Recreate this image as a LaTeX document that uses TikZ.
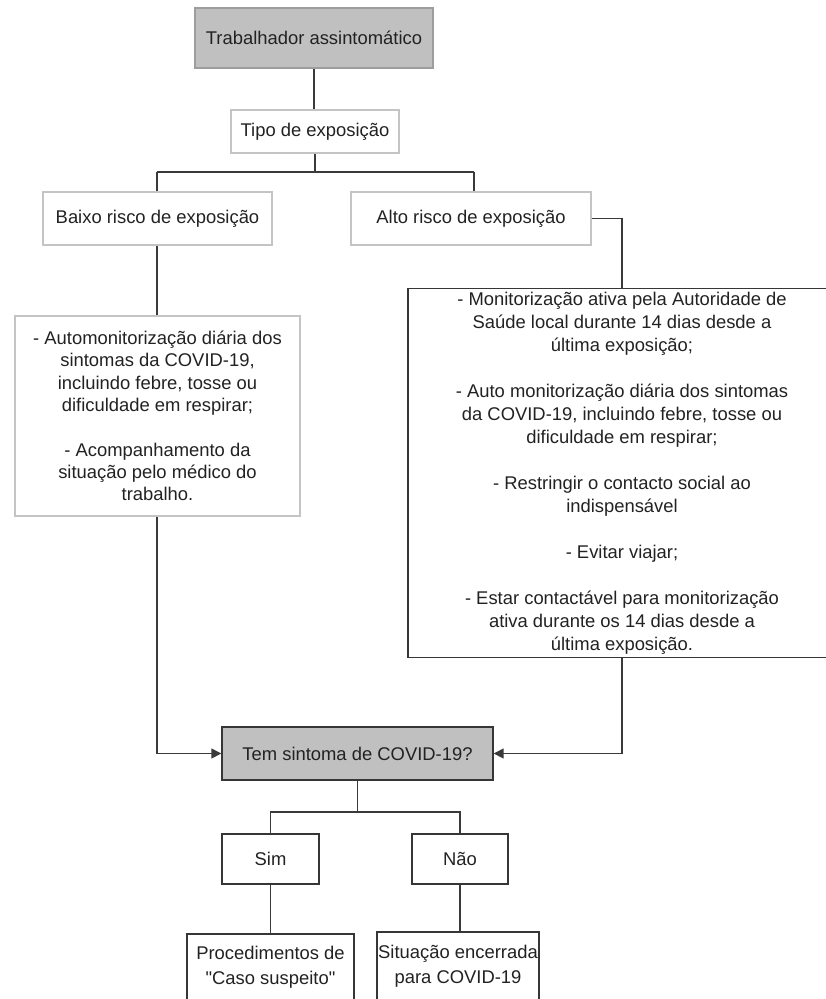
\documentclass[tikz,border=0pt]{standalone}
\usepackage{fontspec}
\setmainfont{Liberation Sans}[Ligatures=TeXOff]
\usetikzlibrary{arrows.meta}
\definecolor{boxgray}{HTML}{C0C0C0}
\definecolor{lightedge}{HTML}{C4C4C4}
\definecolor{darkedge}{HTML}{363636}
\definecolor{linecol}{HTML}{3A3A3A}
\definecolor{txt}{HTML}{222222}
\tikzset{
  base/.style={rectangle, inner sep=0pt, align=center, text=txt,
    font=\fontsize{18.4}{22.5}\selectfont},
  lightbox/.style={base, draw=lightedge, line width=1.2pt, fill=white},
  darkbox/.style={base, draw=darkedge, line width=1.4pt, fill=white},
  graybox/.style={base, fill=boxgray},
  conn/.style={draw=linecol, line width=1.5pt},
  arr/.style={conn, -{Triangle[length=10pt,width=10pt]}}
}
\begin{document}
\begin{tikzpicture}[x=1pt, y=-1pt]
\useasboundingbox (0,0) rectangle (826,999);
\clip (0,0) rectangle (826,999);
\fill[white] (0,0) rectangle (826,999);

\node[graybox, draw=lightedge!80!black, line width=1.2pt, minimum width=238pt, minimum height=60pt] (top) at (314,38) {Trabalhador assintomático};
\node[lightbox, minimum width=168pt, minimum height=43pt] (tipo) at (315,131.5) {Tipo de exposição};
\node[lightbox, minimum width=229pt, minimum height=53pt] (baixo) at (157.5,218.5) {Baixo risco de exposição};
\node[lightbox, minimum width=240pt, minimum height=53pt] (alto) at (471,218.5) {Alto risco de exposição};
\node[lightbox, minimum width=285pt, minimum height=200pt, font=\fontsize{18.4}{22.3}\selectfont] (left) at (157.5,416)
  {- Automonitorização diária dos\\sintomas da COVID-19,\\incluindo febre, tosse ou\\dificuldade em respirar;\\[22.3pt]- Acompanhamento da\\situação pelo médico do\\trabalho.};
\node[darkbox, minimum width=428pt, minimum height=369pt, font=\fontsize{18.4}{23}\selectfont] (big) at (622,473)
  {- Monitorização ativa pela Autoridade de\\Saúde local durante 14 dias desde a\\última exposição;\\[23pt]- Auto monitorização diária dos sintomas\\da COVID-19, incluindo febre, tosse ou\\dificuldade em respirar;\\[23pt]- Restringir o contacto social ao\\indispensável\\[23pt]- Evitar viajar;\\[23pt]- Estar contactável para monitorização\\ativa durante os 14 dias desde a\\última exposição.};
\node[graybox, draw=darkedge, line width=1.4pt, minimum width=271pt, minimum height=53pt] (tem) at (357.5,753.5) {Tem sintoma de COVID-19?};
\node[darkbox, minimum width=97pt, minimum height=50pt] (sim) at (270.5,859) {Sim};
\node[darkbox, minimum width=96pt, minimum height=50pt] (nao) at (460,859) {Não};
\node[darkbox, minimum width=167pt, minimum height=67pt, font=\fontsize{18.4}{25}\selectfont] (proc) at (270.5,967.5) {Procedimentos de\\"Caso suspeito"};
\node[darkbox, minimum width=162pt, minimum height=69pt, font=\fontsize{18.4}{25}\selectfont] (sit) at (458,966.5) {Situação encerrada\\para COVID-19};

\coordinate (split1) at (315,172);
\coordinate (split2) at (357.5,812);
\coordinate (bl) at (157,172);
\coordinate (br) at (474,172);

\draw[conn] (top.south) -- (top.south |- tipo.north);
\draw[conn] (tipo.south) -- (split1);
\draw[conn] (bl) -- (br);
\draw[conn] (bl) -- (bl |- baixo.north);
\draw[conn] (br) -- (br |- alto.north);
\draw[conn] (bl |- baixo.south) -- (bl |- left.north);
\draw[conn] (alto.east) -| (big.north);
\draw[arr] (bl |- left.south) |- (tem.west);
\draw[arr] (big.south) |- (tem.east);
\draw[conn] (tem.south) -- (split2);
\draw[conn] (split2) -| (sim.north);
\draw[conn] (split2) -| (nao.north);
\draw[conn] (sim.south) -- (sim.south |- proc.north);
\draw[conn] (nao.south) -- (nao.south |- sit.north);
\end{tikzpicture}
\end{document}
